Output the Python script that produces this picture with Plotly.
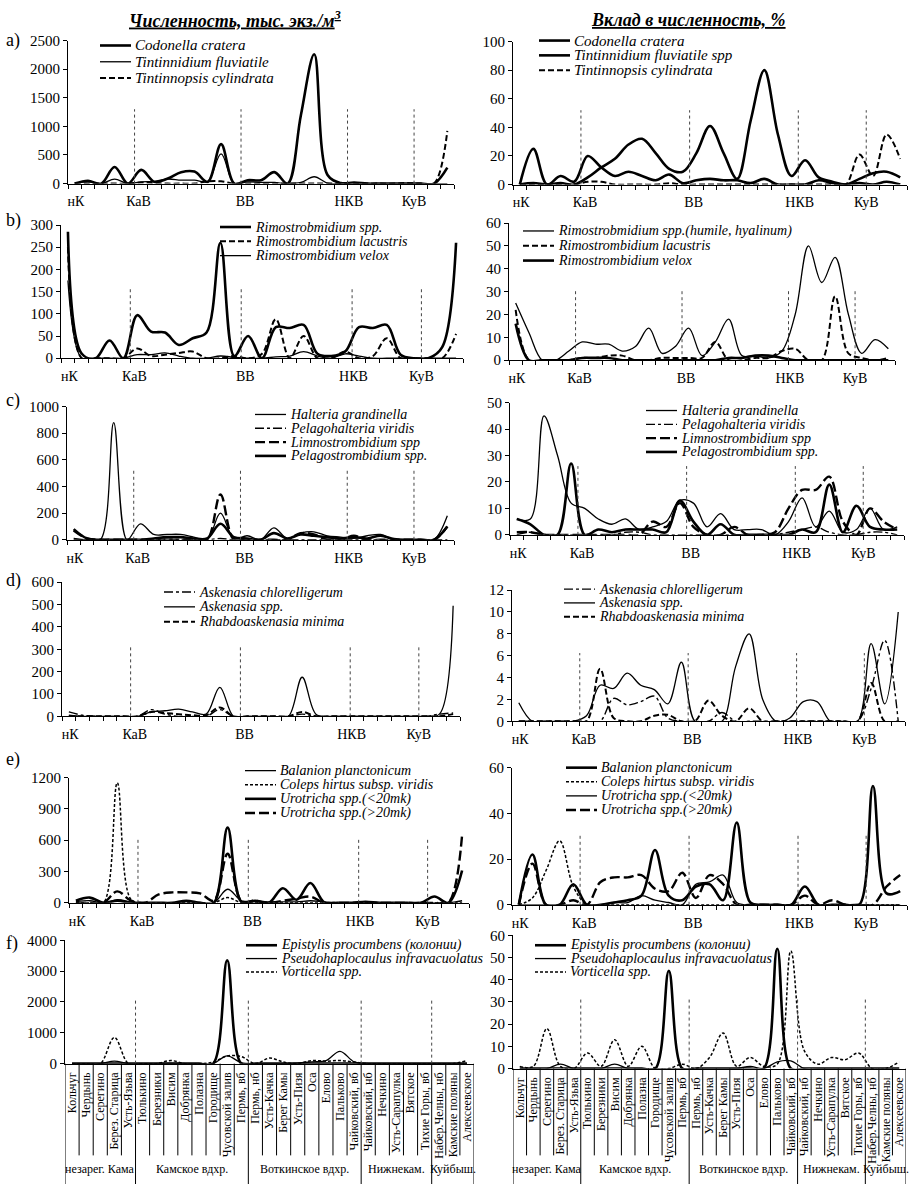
import plotly.graph_objects as go

W, H = 921, 1192
SERIF = "Liberation Serif, Times New Roman, serif"

# ---------------- categories ----------------
stations = ["Кольчуг", "Чердынь", "Серегино", "Берез. Старица", "Усть-Язьва",
            "Тюлькино", "Березники", "Висим", "Добрянка", "Полазна", "Городище",
            "Чусовской залив", "Пермь, вб", "Пермь, нб", "Усть-Качка", "Берег Камы",
            "Усть-Пизя", "Оса", "Елово", "Пальково", "Чайковский, вб", "Чайковский, нб",
            "Нечкино", "Усть-Сарапулка", "Вятское", "Тихие Горы, вб", "Набер.Челны, нб",
            "Камские поляны", "Алексеевское"]
group_names = ["незарег. Кама", "Камское вдхр.", "Воткинское вдхр.", "Нижнекам.", "Куйбыш."]
group_first = [0, 5, 13, 21, 26]
group_last = [4, 12, 20, 25, 28]
region_labels = ["нК", "КаВ", "ВВ", "НКВ", "КуВ"]
region_pos = [0.1, 4.8, 12.8, 20.6, 25.5]
separators = [4.5, 12.5, 20.5, 25.5]

# ---------------- a) Tintinnida ----------------
codonella_abs = [0, 50, 0, 290, 0, 240, 30, 90, 200, 210, 30, 690, 0, 60, 60, 200, 0, 1200, 2260, 150, 10, 20, 0, 0, 0, 0, 0, 0, 280]
tintinnidium_abs = [0, 30, 0, 80, 0, 30, 40, 80, 60, 60, 40, 520, 0, 30, 20, 20, 0, 20, 120, 10, 0, 10, 0, 0, 0, 0, 0, 0, 0]
tintinnopsis_abs = [0, 0, 0, 0, 0, 20, 10, 0, 0, 0, 40, 40, 0, 0, 0, 0, 0, 0, 0, 0, 0, 0, 0, 0, 0, 10, 0, 0, 920]
codonella_pct = [0, 1, 0, 1, 0, 5, 12, 18, 28, 32, 22, 11, 9, 22, 41, 22, 4, 45, 80, 35, 6, 17, 5, 2, 0, 4, 8, 9, 5]
tintinnidium_pct = [0, 25, 0, 6, 2, 20, 12, 6, 9, 6, 3, 7, 1, 3, 4, 3, 3, 1, 4, 0, 0, 0, 3, 1, 0, 1, 0, 2, 0]
tintinnopsis_pct = [0, 0, 0, 0, 0, 2, 2, 0, 0, 0, 0, 1, 0, 0, 0, 0, 0, 0, 0, 0, 0, 0, 0, 0, 0, 21, 6, 35, 18]

# ---------------- b) Rimostrombidium ----------------
rimo_spp_abs = [285, 10, 0, 40, 0, 97, 60, 58, 30, 45, 58, 260, 5, 50, 0, 70, 68, 75, 10, 5, 15, 70, 68, 75, 8, 0, 0, 25, 260]
rimo_lac_abs = [250, 0, 0, 0, 0, 22, 5, 8, 12, 15, 0, 0, 5, 0, 10, 88, 0, 50, 0, 0, 15, 0, 5, 45, 0, 0, 0, 0, 55]
rimo_velox_abs = [175, 0, 0, 0, 0, 8, 8, 12, 5, 0, 0, 5, 2, 0, 0, 3, 5, 15, 5, 0, 10, 5, 0, 0, 0, 0, 0, 0, 0]
rimo_spp_pct = [25, 12, 0, 0, 4, 8, 7, 7, 4, 6, 14, 3, 6, 14, 2, 8, 18, 2, 2, 1, 4, 20, 50, 34, 45, 20, 3, 9, 5]
rimo_lac_pct = [22, 0, 0, 0, 0, 1, 1, 2, 2, 0, 0, 1, 1, 1, 1, 8, 0, 0, 1, 1, 4, 5, 0, 0, 28, 3, 1, 0, 1]
rimo_velox_pct = [16, 0, 0, 0, 0, 1, 1, 1, 0, 0, 0, 0, 0, 0, 0, 0, 1, 1, 2, 2, 1, 0, 0, 0, 0, 0, 0, 0, 0]

# ---------------- c) Halteriidae / Strombidiidae ----------------
halteria_abs = [10, 0, 0, 880, 0, 120, 40, 40, 40, 20, 0, 200, 10, 30, 0, 90, 10, 50, 60, 30, 20, 10, 30, 40, 0, 0, 0, 0, 180]
pelagohalteria_abs = [0, 0, 0, 0, 0, 0, 0, 5, 0, 0, 0, 10, 0, 0, 0, 0, 0, 0, 0, 0, 0, 0, 0, 0, 0, 0, 0, 0, 0]
limnostrombidium_abs = [70, 10, 0, 0, 0, 0, 0, 0, 0, 0, 0, 340, 0, 0, 0, 0, 0, 50, 40, 0, 0, 30, 0, 0, 0, 0, 0, 0, 100]
pelagostrombidium_abs = [80, 10, 0, 0, 0, 0, 10, 20, 20, 10, 10, 120, 20, 10, 0, 50, 10, 40, 30, 20, 10, 20, 10, 30, 5, 0, 0, 0, 100]
halteria_pct = [6, 6, 45, 30, 12, 10, 6, 4, 6, 2, 3, 5, 13, 12, 3, 8, 2, 2, 2, 0, 5, 14, 3, 9, 1, 2, 10, 2, 3]
pelagohalteria_pct = [0, 1, 0, 0, 0, 0, 0, 0, 1, 1, 0, 0, 0, 0, 0, 0, 0, 0, 0, 0, 1, 2, 3, 1, 0, 0, 1, 1, 0]
limnostrombidium_pct = [1, 1, 0, 0, 0, 0, 0, 0, 0, 0, 5, 3, 12, 3, 0, 0, 3, 0, 0, 1, 10, 17, 17, 22, 5, 0, 10, 5, 2]
pelagostrombidium_pct = [6, 4, 0, 0, 27, 0, 2, 1, 2, 2, 2, 1, 13, 5, 0, 4, 0, 0, 0, 0, 0, 2, 1, 19, 1, 11, 3, 2, 2]

# ---------------- d) Askenasia ----------------
ask_chlor_abs = [20, 5, 0, 0, 0, 0, 30, 10, 0, 0, 0, 30, 0, 0, 0, 0, 0, 10, 0, 0, 0, 0, 0, 0, 0, 0, 0, 10, 15]
ask_spp_abs = [5, 0, 0, 0, 0, 0, 20, 25, 32, 20, 10, 130, 0, 0, 0, 0, 0, 175, 10, 0, 0, 0, 0, 0, 0, 0, 0, 10, 495]
rhabdo_abs = [0, 0, 0, 0, 0, 0, 20, 15, 10, 5, 5, 40, 0, 0, 0, 0, 0, 20, 0, 0, 0, 0, 0, 0, 0, 0, 0, 0, 10]
ask_chlor_pct = [0, 0, 0, 0, 0, 0, 0, 2.1, 1.5, 1.8, 2.3, 0.3, 0, 0, 0, 0.8, 0, 0, 0, 0, 0, 0, 0, 0, 0, 0, 3.0, 7.4, 0]
ask_spp_pct = [1.7, 0, 0, 0, 0, 0.5, 3.3, 3.0, 4.4, 3.3, 2.9, 1.6, 5.4, 0, 0, 0, 5, 8, 2, 0, 0.3, 1.8, 1.8, 0, 0, 0, 7.1, 1.6, 10]
rhabdo_pct = [0, 0, 0, 0, 0, 0, 4.8, 0.3, 0, 0, 0.5, 0.6, 0, 0, 1.9, 0.5, 0, 1.2, 0, 0, 0, 0, 0, 0, 0, 0, 3.5, 0, 0]

# ---------------- e) Prostomatea ----------------
balanion_abs = [10, 20, 0, 30, 10, 0, 0, 0, 10, 5, 0, 130, 20, 10, 10, 10, 10, 20, 10, 0, 0, 0, 0, 0, 0, 0, 0, 0, 20]
coleps_abs = [0, 0, 0, 1150, 30, 0, 0, 0, 0, 0, 0, 50, 0, 0, 0, 0, 0, 0, 0, 0, 0, 0, 0, 0, 0, 0, 0, 0, 0]
urotricha_small_abs = [20, 50, 0, 20, 0, 0, 0, 0, 20, 0, 0, 720, 10, 20, 0, 140, 30, 190, 5, 0, 0, 10, 0, 0, 0, 0, 60, 0, 310]
urotricha_big_abs = [0, 0, 0, 110, 20, 0, 80, 100, 100, 90, 20, 470, 20, 20, 0, 20, 40, 60, 0, 0, 0, 0, 0, 0, 0, 0, 0, 0, 650]
balanion_pct = [0, 22, 0, 0, 9, 0, 0, 1, 2, 4, 24, 4, 2, 8, 9, 2, 36, 1, 0, 0, 0, 8, 0, 0, 0, 0, 52, 5, 6]
coleps_pct = [0, 3, 15, 28, 8, 0, 0, 0, 0, 0, 0, 0, 0, 0, 0, 0, 0, 0, 0, 0, 0, 0, 0, 0, 0, 0, 0, 0, 0]
urotricha_small_pct = [0, 0, 0, 0, 0, 0, 0, 1, 1, 4, 2, 1, 0, 9, 10, 13, 1, 0, 0, 0, 0, 0, 0, 0, 0, 0, 0, 0, 0]
urotricha_big_pct = [0, 18, 0, 0, 2, 0, 10, 12, 12, 13, 7, 6, 14, 3, 13, 9, 0, 0, 0, 0, 0, 4, 0, 2, 0, 0, 0, 8, 13]

# ---------------- f) Peritrichia ----------------
epistylis_abs = [0, 0, 0, 0, 0, 0, 0, 0, 0, 0, 0, 3350, 0, 0, 0, 0, 0, 0, 0, 0, 0, 0, 0, 0, 0, 0, 0, 0, 0]
pseudohaplo_abs = [0, 0, 0, 80, 0, 0, 0, 10, 0, 0, 0, 250, 30, 0, 0, 0, 20, 60, 100, 400, 60, 0, 0, 0, 0, 0, 0, 0, 0]
vorticella_abs = [0, 0, 0, 850, 0, 0, 0, 100, 0, 0, 50, 250, 230, 0, 180, 50, 0, 100, 80, 100, 50, 0, 0, 0, 0, 0, 0, 0, 100]
epistylis_pct = [0, 0, 0, 0, 0, 0, 0, 0, 0, 0, 0, 44, 0, 0, 0, 0, 0, 0, 0, 54, 0, 0, 0, 0, 0, 0, 0, 0, 0]
pseudohaplo_pct = [0, 0, 0, 2, 0, 0, 0, 2, 0, 0, 0, 0, 0, 0, 0, 0, 0, 1, 0, 3, 3.5, 0, 0, 0, 0, 0, 0, 0, 0]
vorticella_pct = [1, 1, 18, 1, 0, 7, 1, 13, 1, 10, 0, 0, 2, 0, 5, 16, 1, 5, 1, 2, 53, 8, 2, 5, 4, 7, 0, 0, 3]

# line looks
STYLE = {
    "thick": dict(width=2.6, dash="solid"),
    "thin": dict(width=1.3, dash="solid"),
    "dash": dict(width=2.0, dash="6px,3px"),
    "short": dict(width=1.5, dash="3px,2px"),
    "dashdot": dict(width=1.4, dash="dashdot"),
    "longdash": dict(width=2.4, dash="10px,4px"),
}

# panel layout in pixels: x-domain, y (top, zero), axis max, tick step, letter y,
# key (text x, first row y, row step, font size)
panels = [
    dict(letter="a)", ly=33, xd=(68, 454), yd=(33, 178), ymax=2500, dt=500, leg=(133, 38, 16.5, 15),
         series=[("Codonella cratera", codonella_abs, "thick"),
                 ("Tintinnidium fluviatile", tintinnidium_abs, "thin"),
                 ("Tintinnopsis cylindrata", tintinnopsis_abs, "dash")]),
    dict(letter=None, xd=(513, 907), yd=(34, 179), ymax=100, dt=20, leg=(572, 33, 15, 15),
         series=[("Codonella cratera", codonella_pct, "thick"),
                 ("Tintinnidium fluviatile spp", tintinnidium_pct, "thick"),
                 ("Tintinnopsis cylindrata", tintinnopsis_pct, "dash")]),
    dict(letter="b)", ly=215, xd=(61, 463), yd=(220, 355), ymax=300, dt=50, leg=(253, 222, 14.5, 14),
         series=[("Rimostrobmidium spp.", rimo_spp_abs, "thick"),
                 ("Rimostrombidium lacustris", rimo_lac_abs, "dash"),
                 ("Rimostrombidium velox", rimo_velox_abs, "thin")]),
    dict(letter=None, xd=(509, 895), yd=(218, 357), ymax=60, dt=10, leg=(556, 226, 15, 14),
         series=[("Rimostrobmidium spp.(humile, hyalinum)", rimo_spp_pct, "thin"),
                 ("Rimostrombidium lacustris", rimo_lac_pct, "dash"),
                 ("Rimostrombidium velox", rimo_velox_pct, "thick")]),
    dict(letter="c)", ly=398, xd=(67, 454), yd=(404, 539), ymax=1000, dt=200, leg=(288, 412, 14, 14),
         series=[("Halteria grandinella", halteria_abs, "thin"),
                 ("Pelagohalteria viridis", pelagohalteria_abs, "dashdot"),
                 ("Limnostrombidium spp", limnostrombidium_abs, "longdash"),
                 ("Pelagostrombidium spp.", pelagostrombidium_abs, "thick")]),
    dict(letter=None, xd=(510, 904), yd=(400, 534), ymax=50, dt=10, leg=(679, 408, 14, 14),
         series=[("Halteria grandinella", halteria_pct, "thin"),
                 ("Pelagohalteria viridis", pelagohalteria_pct, "dashdot"),
                 ("Limnostrombidium spp", limnostrombidium_pct, "longdash"),
                 ("Pelagostrombidium spp.", pelagostrombidium_pct, "thick")]),
    dict(letter="d)", ly=580, xd=(62, 460), yd=(582, 718), ymax=600, dt=100, leg=(197, 592, 15, 14),
         series=[("Askenasia chlorelligerum", ask_chlor_abs, "dashdot"),
                 ("Askenasia spp.", ask_spp_abs, "thin"),
                 ("Rhabdoaskenasia minima", rhabdo_abs, "dash")]),
    dict(letter=None, xd=(512, 905), yd=(590, 723), ymax=12, dt=2, leg=(597, 589, 14, 14),
         series=[("Askenasia chlorelligerum", ask_chlor_pct, "dashdot"),
                 ("Askenasia spp.", ask_spp_pct, "thin"),
                 ("Rhabdoaskenasia minima", rhabdo_pct, "dash")]),
    dict(letter="e)", ly=762, xd=(69, 469), yd=(780, 907), ymax=1200, dt=300, leg=(278, 773, 14.3, 14),
         series=[("Balanion planctonicum", balanion_abs, "thin"),
                 ("Coleps hirtus subsp. viridis", coleps_abs, "short"),
                 ("Urotricha spp.(<20mk)", urotricha_small_abs, "thick"),
                 ("Urotricha spp.(>20mk)", urotricha_big_abs, "longdash")]),
    dict(letter=None, xd=(512, 907), yd=(770, 909), ymax=60, dt=20, leg=(599, 770, 14.3, 14),
         series=[("Balanion planctonicum", balanion_pct, "thick"),
                 ("Coleps hirtus subsp. viridis", coleps_pct, "short"),
                 ("Urotricha spp.(<20mk)", urotricha_small_pct, "thin"),
                 ("Urotricha spp.(>20mk)", urotricha_big_pct, "longdash")]),
    dict(letter="f)", ly=948, xd=(65, 474), yd=(945, 1070), ymax=4000, dt=1000, leg=(279, 950, 13.5, 14),
         series=[("Epistylis procumbens (колонии)", epistylis_abs, "thick"),
                 ("Pseudohaplocaulus infravacuolatus", pseudohaplo_abs, "thin"),
                 ("Vorticella spp.", vorticella_abs, "short")]),
    dict(letter=None, xd=(513, 906), yd=(940, 1075), ymax=60, dt=10, leg=(568, 950, 13.5, 14),
         series=[("Epistylis procumbens (колонии)", epistylis_pct, "thick"),
                 ("Pseudohaplocaulus infravacuolatus", pseudohaplo_pct, "thin"),
                 ("Vorticella spp.", vorticella_pct, "short")]),
]

idx = list(range(len(stations)))
fig = go.Figure()
layout = {}
shapes = []
annotations = []


def px(x, y):
    return x / W, 1 - y / H


for k, p in enumerate(panels):
    n = "" if k == 0 else str(k + 1)
    xref, yref = "x" + n, "y" + n
    tx, ty, step, fsize = p["leg"]
    for j, (name, vals, st) in enumerate(p["series"]):
        fig.add_trace(go.Scatter(
            x=idx, y=vals, name=name, mode="lines", xaxis=xref, yaxis=yref, showlegend=False,
            line=dict(color="black", shape="spline", smoothing=1.0, **STYLE[st]),
        ))
        # compact key: sample line + italic name (Excel-like, tighter than plotly legend rows)
        x0, yy = px(tx - 33, ty + j * step)
        x1, _ = px(tx - 2, ty + j * step)
        shapes.append(dict(type="line", xref="paper", yref="paper", x0=x0, x1=x1, y0=yy, y1=yy,
                           line=dict(color="black", **STYLE[st])))
        annotations.append(dict(text="<i>" + name + "</i>", x=tx / W, y=yy, xref="paper", yref="paper",
                                xanchor="left", yanchor="middle", showarrow=False,
                                font=dict(family=SERIF, size=fsize, color="black")))
    bottom = k >= 10
    xa = dict(domain=[p["xd"][0] / W, p["xd"][1] / W], anchor=yref, range=[-0.5, len(stations) - 0.5],
              showline=True, linecolor="black", linewidth=1, showgrid=False, zeroline=False,
              tickfont=dict(family=SERIF, size=14, color="black"), ticks="")
    if bottom:
        xa.update(tickmode="array", tickvals=idx, ticktext=stations, tickangle=-90,
                  tickfont=dict(family=SERIF, size=12, color="black"), ticklabelstandoff=3)
    else:
        xa.update(tickmode="array", tickvals=region_pos, ticktext=region_labels, ticklabelstandoff=5,
                  minor=dict(tickmode="array", tickvals=[i - 0.5 for i in range(len(stations) + 1)],
                             ticks="outside", ticklen=4, tickcolor="black", showgrid=False))
    ya = dict(domain=[1 - p["yd"][1] / H, 1 - p["yd"][0] / H], anchor=xref, range=[0, p["ymax"]],
              dtick=p["dt"], tick0=0, showline=True, linecolor="black", linewidth=1, showgrid=False,
              zeroline=False, ticks="outside", ticklen=4, tickcolor="black",
              tickfont=dict(family=SERIF, size=15, color="black"))
    layout["xaxis" + n] = xa
    layout["yaxis" + n] = ya
    # dotted reservoir borders
    for s in separators:
        shapes.append(dict(type="line", xref=xref, yref=yref, x0=s, x1=s, y0=0, y1=0.52 * p["ymax"],
                           line=dict(color="#444", width=1, dash="dot")))
    if p["letter"]:
        annotations.append(dict(text=p["letter"], x=4 / W, y=1 - p["ly"] / H, xref="paper", yref="paper",
                                xanchor="left", yanchor="middle", showarrow=False,
                                font=dict(family=SERIF, size=18, color="black")))
    if bottom:
        axis_y = 1 - p["yd"][1] / H
        bounds = [-0.5, len(stations) - 0.5] + separators
        for b in [i - 0.5 for i in range(len(stations) + 1)]:
            shapes.append(dict(type="line", xref=xref, yref="paper", x0=b, x1=b, y0=axis_y,
                               y1=0 if b in bounds else 1 - 1163 / H,
                               line=dict(color="black", width=1)))
        for gname, g0, g1 in zip(group_names, group_first, group_last):
            annotations.append(dict(text=gname, x=(g0 + g1) / 2, y=1 - 1177 / H, xref=xref, yref="paper",
                                    xanchor="center", yanchor="middle", showarrow=False,
                                    font=dict(family=SERIF, size=12, color="black")))

annotations.append(dict(text="<b><i><u>Численность, тыс. экз./м<sup>3</sup></u></i></b>",
                        x=235 / W, y=1 - 12 / H, xref="paper", yref="paper", showarrow=False,
                        xanchor="center", yanchor="middle", font=dict(family=SERIF, size=18, color="black")))
annotations.append(dict(text="<b><i><u>Вклад в численность, %</u></i></b>",
                        x=688 / W, y=1 - 12 / H, xref="paper", yref="paper", showarrow=False,
                        xanchor="center", yanchor="middle", font=dict(family=SERIF, size=18, color="black")))

fig.update_layout(width=W, height=H, margin=dict(l=0, r=0, t=0, b=0), plot_bgcolor="white",
                  paper_bgcolor="white", showlegend=False, shapes=shapes, annotations=annotations, **layout)

# the page body keeps its default 8px margin otherwise
fig.write_html("out.html", config={"displayModeBar": False},
               post_script="document.body.style.margin='0';")
